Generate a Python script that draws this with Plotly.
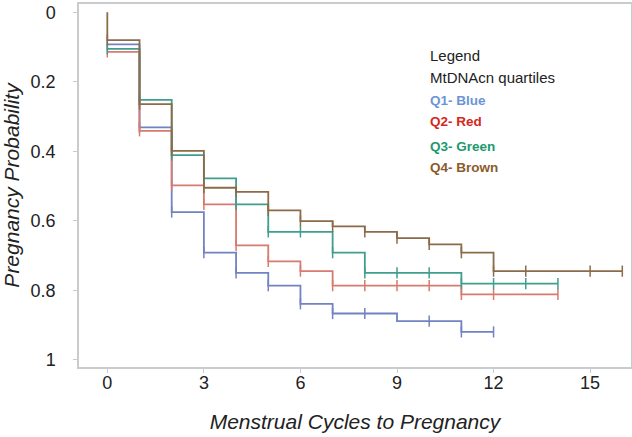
import plotly.graph_objects as go

# Cumulative pregnancy probability levels at cycle t = 0, 1, 2, ...
q1_blue = [0.092, 0.331, 0.575, 0.692, 0.750, 0.787, 0.839, 0.867, 0.867, 0.889, 0.889, 0.920, 0.920]
q2_red = [0.114, 0.341, 0.498, 0.553, 0.671, 0.717, 0.745, 0.787, 0.787, 0.787, 0.787, 0.812, 0.812, 0.812, 0.812]
q3_green = [0.105, 0.252, 0.411, 0.478, 0.553, 0.632, 0.632, 0.692, 0.750, 0.750, 0.750, 0.781, 0.781, 0.781, 0.781]
q4_brown = [0.080, 0.264, 0.399, 0.505, 0.517, 0.570, 0.601, 0.616, 0.632, 0.650, 0.668, 0.692, 0.745, 0.745, 0.745, 0.745, 0.745]

# Censoring times (tick marks)
cens_q1 = [0, 1, 2, 3, 4, 5, 6, 7, 8, 10, 11, 12]
cens_q2 = [0, 1, 2, 3, 4, 5, 6, 7, 8, 9, 10, 11, 12, 14]
cens_q3 = [0, 1, 2, 3, 4, 5, 6, 7, 8, 9, 10, 11, 12, 13, 14]
cens_q4 = [0, 1, 2, 3, 4, 5, 6, 7, 8, 9, 10, 11, 12, 13, 15, 16]

x_ticks = [0, 3, 6, 9, 12, 15]
y_ticks = [0, 0.2, 0.4, 0.6, 0.8, 1]
y_tick_text = ["0", "0.2", "0.4", "0.6", "0.8", "1"]

legend_lines = ["Legend", "MtDNAcn quartiles", "Q1- Blue", "Q2- Red", "Q3- Green", "Q4- Brown"]

series = [
    ("Q1", q1_blue, cens_q1, "#7282c2"),
    ("Q2", q2_red, cens_q2, "#d77a6f"),
    ("Q3", q3_green, cens_q3, "#3f9e8e"),
    ("Q4", q4_brown, cens_q4, "#8b6b48"),
]

fig = go.Figure()
for name, lev, cens, col in series:
    n = len(lev)
    xs = [0] + list(range(n))
    ys = [0] + list(lev)
    if name != "Q4":
        xs = xs[1:]
        ys = ys[1:]
    fig.add_trace(go.Scatter(x=xs, y=ys, mode="lines", line=dict(color=col, width=1.8, shape="hv"),
                             showlegend=False, hoverinfo="skip"))
    fig.add_trace(go.Scatter(x=cens, y=[lev[t] for t in cens], mode="markers",
                             marker=dict(symbol="line-ns-open", size=8, color=col,
                                         line=dict(color=col, width=1.5)),
                             showlegend=False, hoverinfo="skip"))

leg_colors = ["#222222", "#222222", "#6b95d6", "#d3281e", "#1b9a6e", "#8a5c2c"]
leg_y = [0.123, 0.187, 0.253, 0.315, 0.385, 0.448]
for i, txt in enumerate(legend_lines):
    bold = i >= 2
    fig.add_annotation(x=9.95, y=leg_y[i], xref="x", yref="y", text=("<b>%s</b>" % txt) if bold else txt,
                       showarrow=False, xanchor="left", yanchor="middle",
                       font=dict(family="Liberation Sans, Arial, sans-serif", size=13.5 if bold else 15,
                                 color=leg_colors[i]))

axis_col = "#c9cccf"
fig.update_layout(
    width=632, height=437,
    margin=dict(l=79, r=1, t=4, b=70, autoexpand=False),
    plot_bgcolor="white", paper_bgcolor="white",
    font=dict(family="Liberation Sans, Arial, sans-serif", color="#222222"),
    xaxis=dict(range=[-0.88, 16.27], tickvals=x_ticks, ticks="outside", ticklen=4, tickcolor=axis_col,
               showgrid=False, zeroline=False, showline=True, linecolor=axis_col, linewidth=1.5, mirror=True,
               automargin=False,
               tickfont=dict(size=18, color="#222222"), ticklabelstandoff=-5,
               title=dict(text="<i>Menstrual Cycles to Pregnancy</i>", font=dict(size=21, color="#222222"),
                          standoff=22)),
    yaxis=dict(range=[1.021, -0.024], tickvals=y_ticks, ticktext=y_tick_text, ticks="outside", ticklen=4,
               tickcolor=axis_col, showgrid=False, zeroline=False, showline=True, linecolor=axis_col,
               linewidth=1.5, mirror=True, automargin=False,
               tickfont=dict(size=18, color="#222222"), ticklabelstandoff=14,
               title=dict(text="<i>Pregnancy Probability</i>", font=dict(size=21, color="#222222"), standoff=6)),
)

fig.write_html("out.html", config={"displayModeBar": False},
               post_script="document.body.style.margin='0';")
